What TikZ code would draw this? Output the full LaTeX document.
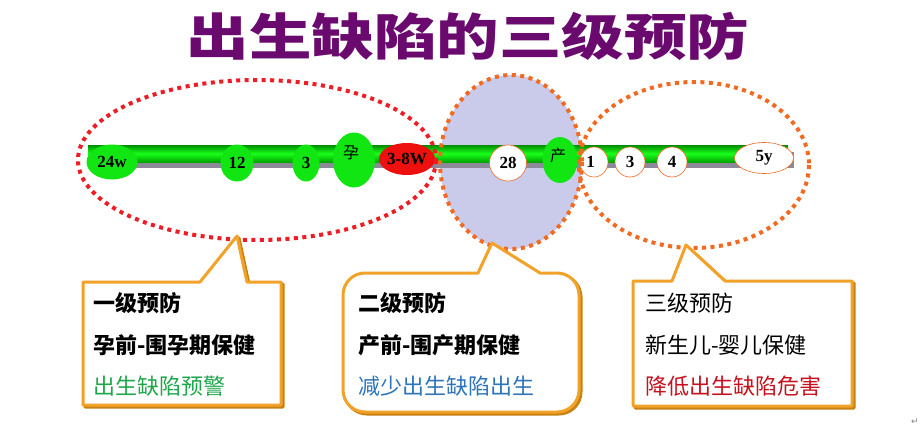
\documentclass[tikz,border=0pt]{standalone}
\usepackage{fontspec}
\usetikzlibrary{shapes.geometric}
\newfontfamily\cjk{Noto Sans CJK SC}
\newfontfamily\numfont{Liberation Serif}
\newfontfamily\symfont{DejaVu Sans}
\definecolor{titlepurple}{HTML}{6A0A6E}
\definecolor{dotred}{HTML}{EE1C24}
\definecolor{dotorange}{HTML}{F26A21}
\definecolor{lav}{HTML}{CACBEB}
\definecolor{boxorange}{HTML}{F2A229}
\definecolor{boxshadow}{HTML}{C98212}
\definecolor{nodegreen}{HTML}{12E612}
\definecolor{nodered}{HTML}{EE0F0F}
\definecolor{txtgreen}{HTML}{1EA64A}
\definecolor{txtblue}{HTML}{2E74B8}
\definecolor{txtred}{HTML}{C4121E}
\definecolor{bargray}{HTML}{8C8A9A}
\tikzset{
  dotline/.style={line width=4pt, dash pattern=on 4pt off 4.5pt},
  gnode/.style={ellipse, fill=nodegreen, inner sep=0pt, font=\numfont\bfseries\fontsize{17}{17}\selectfont},
  wnode/.style={ellipse, fill=white, draw=dotorange, line width=0.6pt, inner sep=0pt, font=\numfont\bfseries\fontsize{17}{17}\selectfont},
  callout/.style={draw=boxorange, line width=3pt, fill=white, line join=round},
  calloutshadow/.style={draw=boxshadow, line width=3pt, line join=round},
  ctext/.style={anchor=west, inner sep=0pt, font=\cjk\fontsize{22}{22}\selectfont},
  ctextb/.style={anchor=west, inner sep=0pt, font=\cjk\bfseries\fontsize{22}{22}\selectfont},
}
\begin{document}
\begin{tikzpicture}[x=1pt,y=-1pt]
\useasboundingbox (0,0) rectangle (922,439);
\fill[white] (0,0) rectangle (922,439);
% title
\node[text=titlepurple, inner sep=0pt] (title) at (468,36) {\scalebox{1.25}[1]{\cjk\bfseries\fontsize{50}{50}\selectfont 出生缺陷的三级预防}};
% lavender ellipse fill
\fill[lav] (511,162) ellipse [x radius=71, y radius=87];
% bar
\fill[bargray] (88,152) rectangle (794,168);
\shade[top color=green!55!black, bottom color=green!65!black, middle color=green!90!white] (88,145) rectangle (788,162);
% nodes on bar
\node[gnode, minimum width=51pt, minimum height=35pt] (n24w) at (112,162) {24w};
\node[gnode, minimum width=33pt, minimum height=37pt] (n12) at (237,163) {12};
\node[gnode, minimum width=27pt, minimum height=37pt] (n3a) at (306,163) {3};
\node[gnode, minimum width=42pt, minimum height=55pt] (nyun) at (354,160) {};
\node[font=\cjk\fontsize{16}{16}\selectfont, inner sep=0pt] (yunlbl) at (351,153) {孕};
\node[gnode, fill=nodered, minimum width=55pt, minimum height=32pt] (n38w) at (407,159) {3-8W};
\node[wnode, minimum width=37pt, minimum height=36pt] (n28) at (508,163) {28};
\node[gnode, minimum width=35pt, minimum height=46pt] (nchan) at (560,160) {};
\node[font=\cjk\fontsize{16}{16}\selectfont, inner sep=0pt] (chanlbl) at (558,155) {产};
\node[wnode, minimum width=28pt, minimum height=30pt] (n1) at (594,162) {\hspace*{-7pt}1};
\node[wnode, minimum width=30pt, minimum height=30pt] (n3b) at (630,162) {3};
\node[wnode, minimum width=30pt, minimum height=30pt] (n4) at (672,162) {4};
\node[wnode, minimum width=59pt, minimum height=31pt] (n5y) at (764,158) {5y};
% dotted outlines
\draw[dotline, dotred] (257,160) ellipse [x radius=179, y radius=80];
\draw[dotline, dotorange] (511,162) ellipse [x radius=71, y radius=87];
\draw[dotline, dotorange] (694,165) ellipse [x radius=115, y radius=83];
% callout 1
\draw[calloutshadow] (85,284) -- (202,284) -- (239,238) -- (249,284) -- (283,284) -- (283,407) -- (85,407) -- cycle;
\draw[callout] (83,282) -- (200,282) -- (237,236) -- (247,282) -- (281,282) -- (281,405) -- (83,405) -- cycle;
\node[ctextb] (c1a) at (93,303) {一级预防};
\node[ctextb] (c1b) at (93,345) {孕前-围孕期保健};
\node[ctext, text=txtgreen] (c1c) at (93,386) {出生缺陷预警};
% callout 2
\draw[calloutshadow] (494,245) -- (542,275) [rounded corners=22] -- (581,275) -- (581,414) -- (345,414) -- (345,275) [sharp corners] -- (480,275) -- cycle;
\draw[callout] (492,243) -- (540,273) [rounded corners=22] -- (579,273) -- (579,412) -- (343,412) -- (343,273) [sharp corners] -- (478,273) -- cycle;
\node[ctextb] (c2a) at (358,303) {二级预防};
\node[ctextb] (c2b) at (358,345) {产前-围产期保健};
\node[ctext, text=txtblue] (c2c) at (358,386) {减少出生缺陷出生};
% callout 3
\draw[calloutshadow] (635,283) -- (674,283) -- (688,247) -- (727,283) -- (854,283) -- (854,408) -- (635,408) -- cycle;
\draw[callout] (633,281) -- (672,281) -- (686,245) -- (725,281) -- (852,281) -- (852,406) -- (633,406) -- cycle;
\node[ctext] (c3a) at (645,303) {三级预防};
\node[ctext] (c3b) at (645,345) {新生儿-婴儿保健};
\node[ctext, text=txtred] (c3c) at (645,386) {降低出生缺陷危害};
% paragraph mark
\node[text=gray, font=\symfont\fontsize{9}{9}\selectfont, inner sep=0pt] (pmark) at (915,422) {↵};
\end{tikzpicture}
\end{document}
